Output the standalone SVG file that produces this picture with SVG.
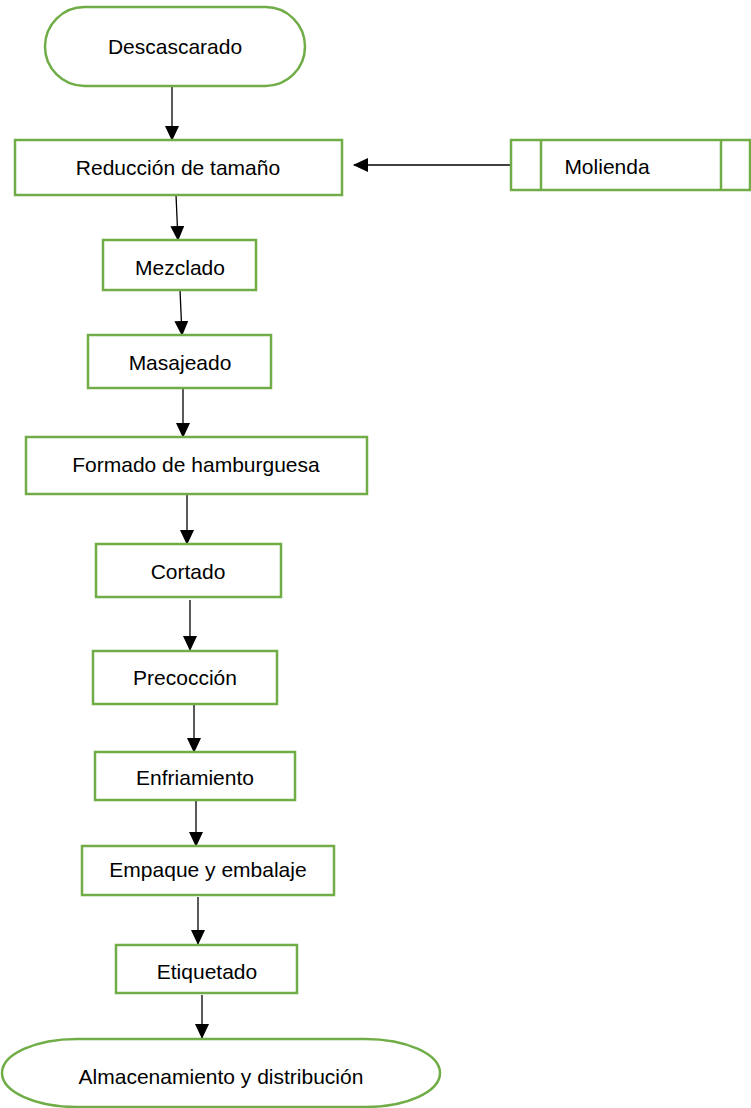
<svg xmlns="http://www.w3.org/2000/svg" width="751" height="1108" viewBox="0 0 751 1108">
<defs>
<style>
.n{fill:#fff;stroke:#70ad47;stroke-width:2.5}
.t{font-family:"Liberation Sans",Arial,sans-serif;font-size:21px;fill:#000;text-anchor:middle;dominant-baseline:central}
.c{stroke:#000;stroke-width:1.3;fill:none;marker-end:url(#ah)}
</style>
<marker id="ah" markerWidth="15" markerHeight="14" refX="14" refY="7" orient="auto" markerUnits="userSpaceOnUse">
<path d="M0,0 L15,7 L0,14 Z" fill="#000"/>
</marker>
</defs>
<rect width="751" height="1108" fill="#fff"/>
<g id="connectors">
<line class="c" x1="172" y1="86" x2="172" y2="140"/>
<line class="c" x1="176" y1="195" x2="178" y2="240"/>
<line class="c" x1="180" y1="290" x2="182" y2="335"/>
<line class="c" x1="183" y1="389" x2="183" y2="437"/>
<line class="c" x1="187" y1="495" x2="187" y2="544"/>
<line class="c" x1="190" y1="600" x2="190" y2="650"/>
<line class="c" x1="194" y1="705" x2="194" y2="752"/>
<line class="c" x1="196" y1="801" x2="196" y2="846"/>
<line class="c" x1="198" y1="897" x2="198" y2="944"/>
<line class="c" x1="202" y1="995" x2="202" y2="1038"/>
<line class="c" x1="515" y1="165" x2="354" y2="165"/>
</g>
<g id="descascarado">
<rect class="n" x="45" y="7" width="260" height="79" rx="39.5"/>
<text class="t" x="175" y="46">Descascarado</text>
</g>
<g id="reduccion">
<rect class="n" x="15" y="140" width="327" height="55"/>
<text class="t" x="178" y="167">Reducción de tamaño</text>
</g>
<g id="molienda">
<rect class="n" x="511" y="140" width="239" height="50"/>
<line class="n" x1="541" y1="140" x2="541" y2="190"/>
<line class="n" x1="721" y1="140" x2="721" y2="190"/>
<text class="t" x="607" y="166">Molienda</text>
</g>
<g id="mezclado">
<rect class="n" x="103" y="240" width="153" height="50"/>
<text class="t" x="180" y="267">Mezclado</text>
</g>
<g id="masajeado">
<rect class="n" x="88" y="335" width="183" height="53"/>
<text class="t" x="180" y="362">Masajeado</text>
</g>
<g id="formado">
<rect class="n" x="26" y="437" width="341" height="57"/>
<text class="t" x="196" y="464">Formado de hamburguesa</text>
</g>
<g id="cortado">
<rect class="n" x="96" y="544" width="185" height="53"/>
<text class="t" x="188" y="571">Cortado</text>
</g>
<g id="precoccion">
<rect class="n" x="93" y="651" width="184" height="53"/>
<text class="t" x="185" y="677">Precocción</text>
</g>
<g id="enfriamiento">
<rect class="n" x="95" y="752" width="200" height="48"/>
<text class="t" x="195" y="777">Enfriamiento</text>
</g>
<g id="empaque">
<rect class="n" x="82" y="846" width="252" height="49"/>
<text class="t" x="208" y="869">Empaque y embalaje</text>
</g>
<g id="etiquetado">
<rect class="n" x="116" y="945" width="181" height="48"/>
<text class="t" x="207" y="971">Etiquetado</text>
</g>
<g id="almacenamiento">
<rect class="n" x="2" y="1039" width="438" height="68" rx="75" ry="34"/>
<text class="t" x="221" y="1076">Almacenamiento y distribución</text>
</g>
</svg>
